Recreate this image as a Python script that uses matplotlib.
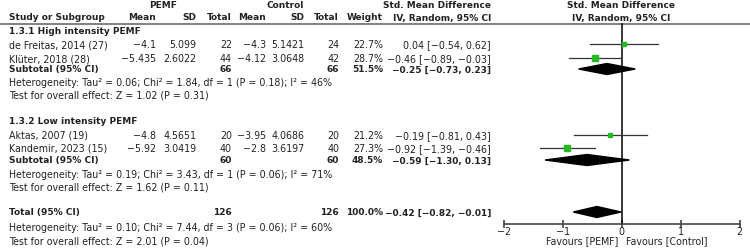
import numpy as np
import matplotlib.pyplot as plt
from matplotlib.patches import Polygon

# study level data
studies = ["de Freitas, 2014 (27)", "Klüter, 2018 (28)", "Aktas, 2007 (19)", "Kandemir, 2023 (15)"]
pemf_mean = ["−4.1", "−5.435", "−4.8", "−5.92"]
pemf_sd = ["5.099", "2.6022", "4.5651", "3.0419"]
pemf_n = [22, 44, 20, 40]
ctrl_mean = ["−4.3", "−4.12", "−3.95", "−2.8"]
ctrl_sd = ["5.1421", "3.0648", "4.0686", "3.6197"]
ctrl_n = [24, 42, 20, 40]
weight = [22.7, 28.7, 21.2, 27.3]
smd = [0.04, -0.46, -0.19, -0.92]
smd_lo = [-0.54, -0.89, -0.81, -1.39]
smd_hi = [0.62, -0.03, 0.43, -0.46]

# pooled estimates: two subgroups + total
pool_names = ["Subtotal (95% CI)", "Subtotal (95% CI)", "Total (95% CI)"]
pool_pemf_n = [66, 60, 126]
pool_ctrl_n = [66, 60, 126]
pool_weight = [51.5, 48.5, 100.0]
pool_est = [-0.25, -0.59, -0.42]
pool_lo = [-0.73, -1.30, -0.82]
pool_hi = [0.23, 0.13, -0.01]
pool_het = ["Heterogeneity: Tau² = 0.06; Chi² = 1.84, df = 1 (P = 0.18); I² = 46%",
            "Heterogeneity: Tau² = 0.19; Chi² = 3.43, df = 1 (P = 0.06); I² = 71%",
            "Heterogeneity: Tau² = 0.10; Chi² = 7.44, df = 3 (P = 0.06); I² = 60%"]
pool_z = ["Test for overall effect: Z = 1.02 (P = 0.31)",
          "Test for overall effect: Z = 1.62 (P = 0.11)",
          "Test for overall effect: Z = 2.01 (P = 0.04)"]
groups = ["1.3.1 High intensity PEMF", "1.3.2 Low intensity PEMF"]

# layout (pixel rows)
study_y = [45, 59, 136, 149]
group_y = [32, 122]
pool_y = [70, 161, 213]
het_y = [83, 175, 228]
z_y = [96, 188, 242]
W, H = 750, 251
fs = 6.85
fs_b = 6.45
txt_c = "#222222"
LX = 9

fig = plt.figure(figsize=(W / 100, H / 100), dpi=100)
ax = fig.add_axes([0, 0, 1, 1])
ax.set_xlim(0, W)
ax.set_ylim(H, 0)
ax.axis("off")

def t(x, y, s, ha="right", bold=False):
    ax.text(x, y, s, ha=ha, va="center", fontsize=fs_b if bold else fs, color=txt_c,
            fontweight="bold" if bold else "normal")

# headers
t(163, 6, "PEMF", ha="center", bold=True)
t(285, 6, "Control", ha="center", bold=True)
t(491, 6, "Std. Mean Difference", bold=True)
t(621, 6, "Std. Mean Difference", ha="center", bold=True)
t(LX, 18, "Study or Subgroup", ha="left", bold=True)
for x, s in [(156, "Mean"), (196, "SD"), (232, "Total"), (266, "Mean"),
             (304, "SD"), (339, "Total"), (383, "Weight"), (491, "IV, Random, 95% CI")]:
    t(x, 18, s, bold=True)
t(621, 18, "IV, Random, 95% CI", ha="center", bold=True)
ax.plot([0, W], [24.5, 24.5], color="#777777", lw=1.3)

fmt = lambda v: f"{v:.2f}".replace("-", "−")

for g in range(2):
    t(LX, group_y[g], groups[g], ha="left", bold=True)

for i in range(4):
    y = study_y[i]
    t(LX, y, studies[i], ha="left")
    t(156, y, pemf_mean[i]); t(196, y, pemf_sd[i]); t(232, y, str(pemf_n[i]))
    t(266, y, ctrl_mean[i]); t(304, y, ctrl_sd[i]); t(339, y, str(ctrl_n[i]))
    t(383, y, f"{weight[i]:.1f}%")
    t(491, y, f"{fmt(smd[i])} [{fmt(smd_lo[i])}, {fmt(smd_hi[i])}]")

for k in range(3):
    y = pool_y[k]
    t(LX, y, pool_names[k], ha="left", bold=True)
    t(232, y, str(pool_pemf_n[k]), bold=True)
    t(339, y, str(pool_ctrl_n[k]), bold=True)
    t(383, y, f"{pool_weight[k]:.1f}%", bold=True)
    t(491, y, f"{fmt(pool_est[k])} [{fmt(pool_lo[k])}, {fmt(pool_hi[k])}]", bold=True)
    t(LX, het_y[k], pool_het[k], ha="left")
    t(LX, z_y[k], pool_z[k], ha="left")

# forest panel
x0, x1 = 503.7, 739.7
fa = fig.add_axes([x0 / W, 0, (x1 - x0) / W, 1])
fa.set_xlim(-2, 2)
fa.set_ylim(H, 0)
fa.patch.set_alpha(0)
for s in ["top", "right", "left"]:
    fa.spines[s].set_visible(False)
fa.spines["bottom"].set_position(("data", 225))
fa.spines["bottom"].set_color("#444444")
fa.spines["bottom"].set_linewidth(1.2)
fa.set_yticks([])
fa.set_xticks([-2, -1, 0, 1, 2])
fa.tick_params(axis="x", direction="inout", length=6, width=1.2, color="#444444",
               labelsize=fs, pad=-1.5, labelcolor=txt_c)
fa.set_xticklabels(["−2", "−1", "0", "1", "2"])
fa.plot([0, 0], [24.5, 225], color="black", lw=1.1)

for i in range(4):
    fa.plot([smd_lo[i], smd_hi[i]], [study_y[i]] * 2, color="#333333", lw=0.9)
    fa.plot(smd[i], study_y[i], marker="s", color="#22bb22", ms=weight[i] * 0.14,
            mec="#22bb22")

for k in range(3):
    y = pool_y[k]
    fa.add_patch(Polygon([(pool_lo[k], y), (pool_est[k], y - 5.5), (pool_hi[k], y),
                          (pool_est[k], y + 5.5)], closed=True, color="black"))

fa.text(-0.06, 241, "Favours [PEMF]", ha="right", va="center", fontsize=fs, color=txt_c)
fa.text(0.07, 241, "Favours [Control]", ha="left", va="center", fontsize=fs, color=txt_c)

fig.savefig("out.png", dpi=100)
